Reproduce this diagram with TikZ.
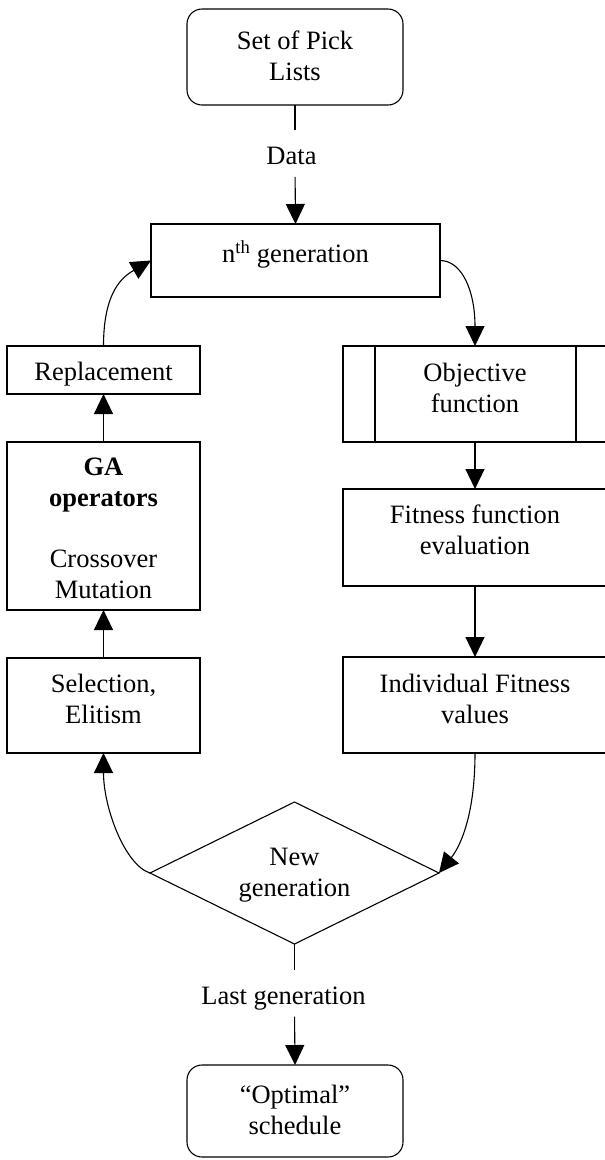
\documentclass[tikz,border=0pt]{standalone}
\usepackage{fontspec}
\setmainfont{Liberation Serif}
\usetikzlibrary{arrows.meta,shapes.geometric}
\tikzset{
  base/.style={draw, line width=1.1pt, inner sep=0pt, outer sep=0pt},
  rbox/.style={base, rounded corners=15pt},
  sbox/.style={base},
  txt/.style={align=center, inner sep=0pt, outer sep=0pt, font=\fontsize{26.5}{31}\selectfont},
  arr/.style={line width=1.1pt, -{Triangle[length=20pt,width=19pt]}},
  ln/.style={line width=1.1pt},
}
\begin{document}
\begin{tikzpicture}[x=1pt,y=-1pt]
\useasboundingbox (0,0) rectangle (605,1160);
% boxes
\node[rbox, minimum width=216pt, minimum height=96pt] (set) at (295,57) {};
\node[txt] (sett) at (295,55.5) {Set of Pick\\Lists};
\node[txt] (data) at (291.5,156) {Data};
\node[sbox, minimum width=289pt, minimum height=73pt] (gen) at (295.5,260.5) {};
\node[txt] (gent) at (295.5,254) {n\textsuperscript{th} generation};
\node[sbox, minimum width=193pt, minimum height=48pt] (rep) at (103.5,370) {};
\node[txt] (rept) at (103.5,374) {Replacement};
\node[sbox, minimum width=193pt, minimum height=168pt] (ga) at (103.5,526) {};
\node[txt] (gat) at (103.5,528) {\textbf{GA}\\\textbf{operators}\\[30pt]Crossover\\Mutation};
\node[sbox, minimum width=193pt, minimum height=95pt] (sel) at (103.5,705.5) {};
\node[txt] (selt) at (103.5,699) {Selection,\\Elitism};
\node[sbox, minimum width=264pt, minimum height=96pt] (obj) at (475,394) {};
\draw[ln] ([xshift=32pt]obj.north west) -- ([xshift=32pt]obj.south west);
\draw[ln] ([xshift=-31pt]obj.north east) -- ([xshift=-31pt]obj.south east);
\node[txt] (objt) at (475,388) {Objective\\function};
\node[sbox, minimum width=264pt, minimum height=97pt] (fit) at (475,537.5) {};
\node[txt] (fitt) at (475,530) {Fitness function\\evaluation};
\node[sbox, minimum width=264pt, minimum height=96pt] (ind) at (475,705) {};
\node[txt] (indt) at (475,698.5) {Individual Fitness\\values};
\node[base, diamond, shape aspect=2.03, minimum width=289pt, minimum height=142pt] (dia) at (294.5,873) {};
\node[txt] (diat) at (294.5,875) {New\\generation};
\node[txt] (last) at (283.5,999) {Last generation};
\node[rbox, minimum width=216pt, minimum height=92pt] (opt) at (295,1111) {};
\node[txt] (optt) at (295,1110) {“Optimal”\\schedule};
% connectors
\draw[ln, shorten >=17pt] (set.south) -- (set.south |- data.north);
\draw[arr, shorten <=12pt] (set.south |- data.south) -- (gen.north);
\draw[arr] (rep.north) .. controls +(0,-55) and +(-28,16) .. (gen.west);
\draw[arr] (gen.east) .. controls +(22,0) and +(0,-55) .. (obj.north);
\draw[arr] (obj.south) -- (fit.north);
\draw[arr] (fit.south) -- (ind.north);
\draw[arr] (ind.south) .. controls +(0,65) and +(20,-25) .. (dia.east);
\draw[arr] (dia.west) .. controls +(-25,-8) and +(0,55) .. (sel.south);
\draw[arr] (sel.north) -- (ga.south);
\draw[arr] (ga.north) -- (rep.south);
\draw[ln, shorten >=17pt] (dia.south) -- (dia.south |- last.north);
\draw[arr, shorten <=6pt] (dia.south |- last.south) -- (opt.north);
\end{tikzpicture}
\end{document}
